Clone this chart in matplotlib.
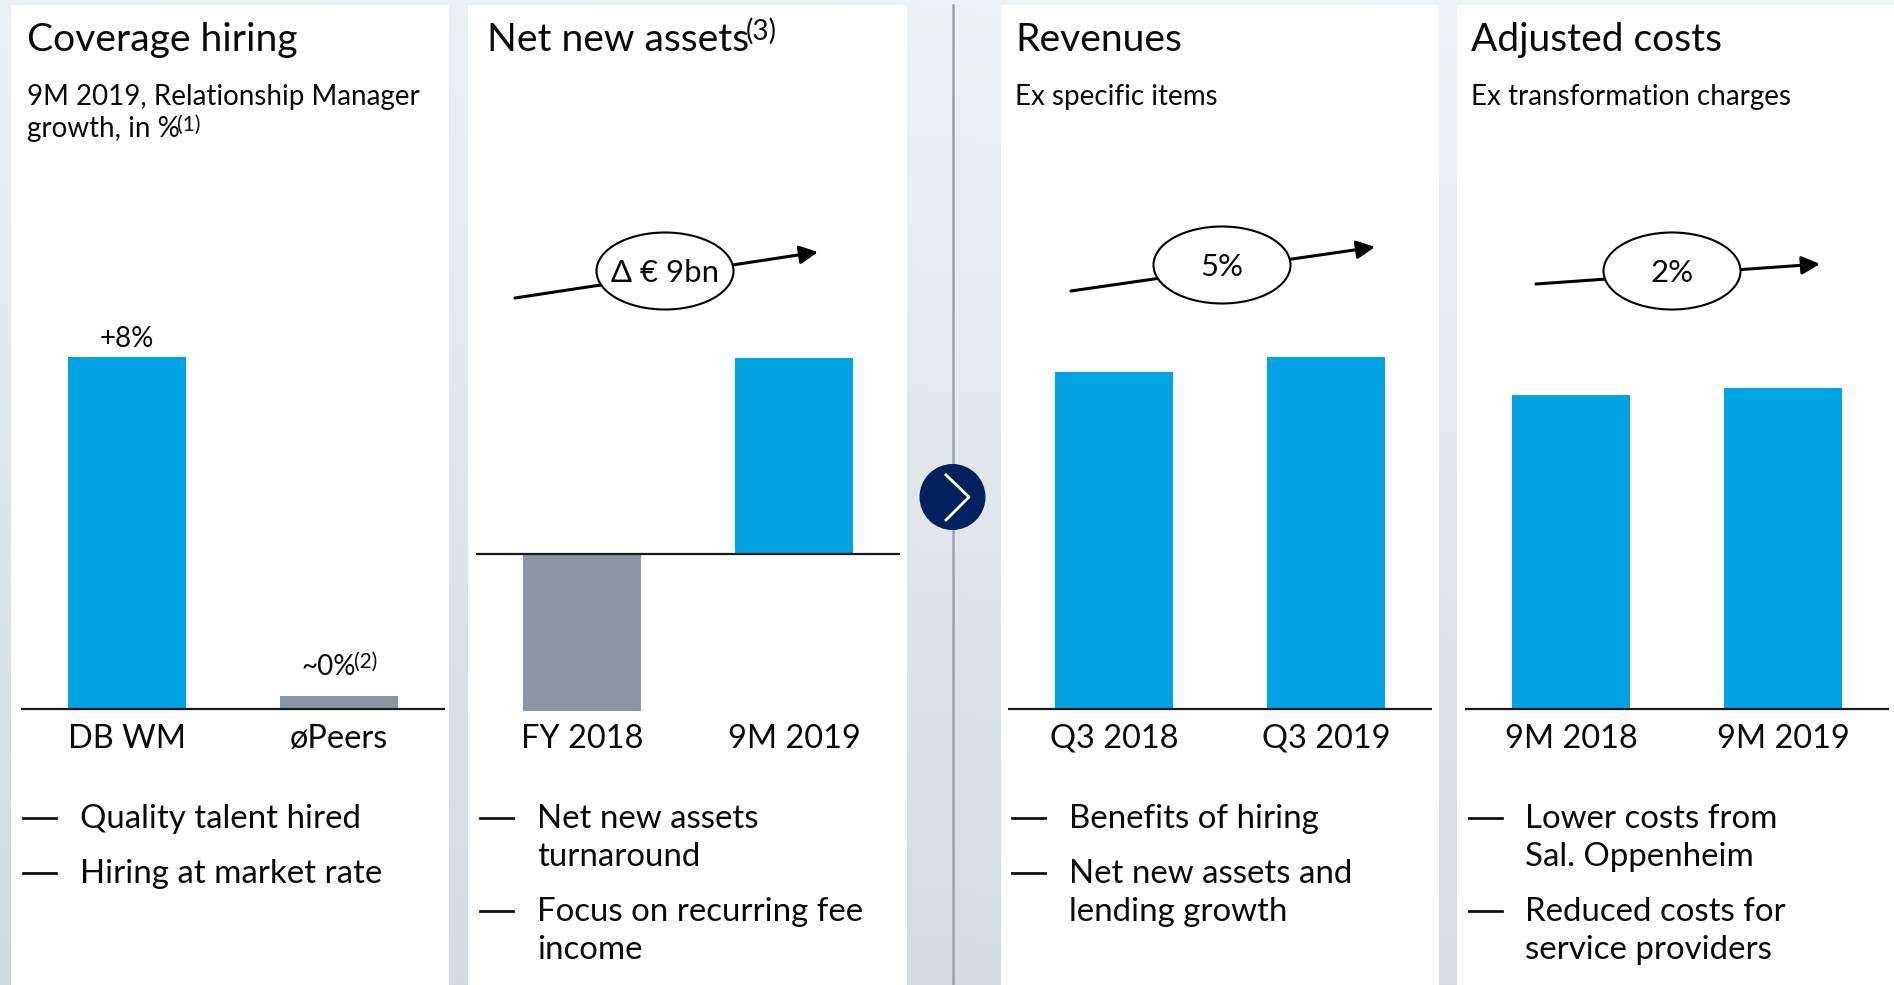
import numpy as np
import matplotlib
matplotlib.use('Agg')
import matplotlib.pyplot as plt
from matplotlib.patches import Ellipse, Circle, Rectangle

plt.rcParams['font.family'] = ['Lato', 'DejaVu Sans']

BLUE = '#02a3e3'
GREY = '#8a97a3'

# Bar data (indexed where the slide shows no numbers)
hiring_labels = ['DB WM', 'øPeers']
hiring_values = [8, 0.3]
nna_labels = ['FY 2018', '9M 2019']
nna_values = [-4, 5]
rev_labels = ['Q3 2018', 'Q3 2019']
rev_values = [100, 104.5]
cost_labels = ['9M 2018', '9M 2019']
cost_values = [100, 102.2]

W, H = 1894, 985
fig = plt.figure(figsize=(W / 100, H / 100), dpi=100)

# Page in pixel coordinates
bg = fig.add_axes([0, 0, 1, 1])
bg.set_xlim(0, W)
bg.set_ylim(H, 0)
bg.axis('off')
yy, xx = np.mgrid[0:1:200j, 0:1:200j]
t = np.clip(0.85 * yy + 0.15 * (1 - xx), 0, 1)
top = np.array([0xef, 0xf4, 0xf7]) / 255
bot = np.array([0xd2, 0xda, 0xdf]) / 255
grad = top[None, None, :] * (1 - t[..., None]) + bot[None, None, :] * t[..., None]
bg.imshow(grad, extent=(0, W, H, 0), aspect='auto', zorder=0)

for x0, x1 in [(11, 449), (468, 907), (1001, 1439), (1457, 1894)]:
    bg.add_patch(Rectangle((x0, 5), x1 - x0, H, fc='white', ec='none', zorder=1))

bg.plot([953, 953], [5, H], color='#98a4ae', lw=1.8, zorder=2)
bg.add_patch(Circle((952.5, 497), 33, fc='#03215f', ec='none', zorder=3))
bg.plot([946, 969, 946], [475, 497, 520], color='white', lw=2, zorder=4)


def bar_panel(x_left, y_top, y_bottom, values, ylim, colors):
    ax = fig.add_axes([x_left / W, 1 - y_bottom / H, 424 / W, (y_bottom - y_top) / H])
    ax.patch.set_alpha(0)
    ax.bar([0, 1], values, width=0.557, color=colors)
    ax.set_xlim(-0.5, 1.5)
    ax.set_ylim(*ylim)
    ax.axis('off')
    ax.axhline(0, color='#1a1a1a', lw=1.6, clip_on=False, solid_capstyle='butt')
    return ax


bar_panel(21, 357, 709, hiring_values, (0, 8), [BLUE, GREY])
bar_panel(476, 358, 711, nna_values, (-4, 5), [GREY, BLUE])
bar_panel(1008, 357, 709, rev_values, (0, 104.5), [BLUE, BLUE])
bar_panel(1465, 388, 709, cost_values, (0, 102.2), [BLUE, BLUE])

TITLE = 39
SUB = 27.8
LAB = 32.5
BUL = 33


def txt(x, y, s, size, ha='left', **kw):
    return bg.text(x, y, s, fontsize=size * 0.72, ha=ha, va='baseline', color='#0a0a0a', zorder=6, **kw)


# Titles
txt(27, 51, 'Coverage hiring', TITLE)
txt(487, 51, 'Net new assets', TITLE)
txt(746, 40, '(3)', 28)
txt(1015, 51, 'Revenues', TITLE)
txt(1471, 51, 'Adjusted costs', TITLE)

# Subtitles
txt(27, 105, '9M 2019, Relationship Manager', SUB)
txt(27, 137, 'growth, in %', SUB)
txt(177, 131, '(1)', 21)
txt(1015, 105, 'Ex specific items', SUB)
txt(1471, 105, 'Ex transformation charges', SUB)

# Value labels
txt(127, 347, '+8%', SUB, ha='center')
txt(301, 675, '~0%', SUB)
txt(354, 668, '(2)', 21)

# Category labels
for xs, labs in [((127, 339), hiring_labels), ((582, 794), nna_labels),
                 ((1114, 1326), rev_labels), ((1571, 1783), cost_labels)]:
    for x, s in zip(xs, labs):
        txt(x, 748, s, LAB, ha='center')

# Bullets
bullets = [
    (23, 80, [(828, 'Quality talent hired', True), (883, 'Hiring at market rate', True)]),
    (480, 537, [(828, 'Net new assets', True), (866, 'turnaround', False),
                (921, 'Focus on recurring fee', True), (959, 'income', False)]),
    (1012, 1069, [(828, 'Benefits of hiring', True), (883, 'Net new assets and', True),
                  (921, 'lending growth', False)]),
    (1469, 1525, [(828, 'Lower costs from', True), (866, 'Sal. Oppenheim', False),
                  (921, 'Reduced costs for', True), (959, 'service providers', False)]),
]
for dash_x, text_x, rows in bullets:
    for y, s, dash in rows:
        txt(text_x, y, s, BUL)
        if dash:
            bg.plot([dash_x, dash_x + 33], [y - 10, y - 10], color='#111111', lw=2, zorder=6)

# Trend arrows with ovals
arrows = [
    ((515, 298), (818, 252), (665, 271), 'Δ € 9bn'),
    ((1071, 291), (1375, 247), (1222, 265), '5%'),
    ((1536, 284), (1820, 264), (1672, 271), '2%'),
]
for start, tip, c, s in arrows:
    bg.annotate('', xy=tip, xytext=start, zorder=5,
                arrowprops=dict(arrowstyle='-|>,head_width=0.55,head_length=1.1', color='black',
                                lw=2.2, shrinkA=0, shrinkB=0))
    bg.add_patch(Ellipse(c, 137, 77, fc='white', ec='black', lw=1.5, zorder=5.5))
    bg.text(c[0], c[1] + 2, s, fontsize=SUB * 0.72 * 1.12, ha='center', va='center', color='#0a0a0a', zorder=6)

fig.savefig('out.png', dpi=100)
